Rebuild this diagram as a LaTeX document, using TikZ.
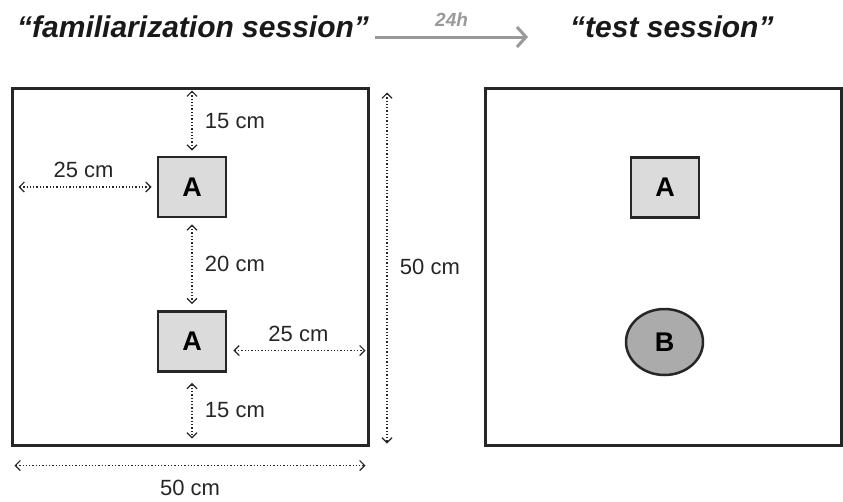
\documentclass[tikz,border=0pt]{standalone}
\usepackage{fontspec}
\setmainfont{Liberation Sans}
\usetikzlibrary{arrows.meta,shapes.geometric}

\tikzset{
	arena/.style={draw=black!85, line width=3pt, minimum width=356pt, minimum height=357pt},
	objA/.style={draw=black!85, line width=2.8pt, fill=black!14, minimum width=68pt, minimum height=60pt, font=\bfseries\fontsize{27}{27}\selectfont},
	objB/.style={ellipse, draw=black!85, line width=2.5pt, fill=black!33, minimum width=77pt, minimum height=66pt, inner sep=0pt, font=\bfseries\fontsize{27}{27}\selectfont},
	dim/.style={black!85, dotted, line width=1.3pt, {Straight Barb[length=5pt,width=10pt,line width=1.2pt]}-{Straight Barb[length=5pt,width=10pt,line width=1.2pt]}},
	dimlabel/.style={black!85, font=\fontsize{22}{22}\selectfont},
	session/.style={anchor=base west, inner sep=0pt, text=black!90, font=\bfseries\itshape\fontsize{30}{30}\selectfont},
	delay/.style={draw=black!40, line width=3pt, -{Straight Barb[length=9pt,width=20pt,line width=3pt]}},
}

\begin{document}
\begin{tikzpicture}[x=1pt, y=-1pt]
		%%%%% START %%%%%
		\useasboundingbox (0,0) rectangle (843,501);
		
		% titles
		\node[session] (famtitle) at (17,37) {“familiarization session”};
		\node[session] (testtitle) at (570,37) {“test session”};
		\draw[delay] ([xshift=6pt,yshift=0pt]famtitle.base east) -- ([xshift=-42pt,yshift=0pt]testtitle.base west) node[midway, above=6pt, text=black!40, font=\bfseries\itshape\fontsize{19}{19}\selectfont] {24h};
		
		% arenas
		\node[arena] (fam) at (190,266.5) {};
		\node[arena] (test) at (663,266.5) {};
		
		% objects
		\node[objA] (famA1) at (192,187) {A};
		\node[objA] (famA2) at (192,341.5) {A};
		\node[objA] (testA) at (665,187.5) {A};
		\node[objB] (testB) at (664.5,342) {B};
		
		% distances
		\draw[dim, shorten <=4pt, shorten >=5pt] (famA1.north |- fam.north) -- (famA1.north) node[midway, right=9pt, dimlabel] {15 cm};
		\draw[dim, shorten <=8pt, shorten >=5pt] (famA1.west -| fam.west) -- (famA1.west) node[midway, above=5pt, dimlabel] {25 cm};
		\draw[dim, shorten <=6pt, shorten >=6pt] (famA1.south) -- (famA2.north) node[midway, right=9pt, dimlabel] {20 cm};
		\draw[dim, shorten <=6pt, shorten >=4pt] ([yshift=-9pt]famA2.east) -- ([yshift=-9pt]famA2.east -| fam.east) node[midway, above=5pt, dimlabel] {25 cm};
		\draw[dim, shorten <=10pt, shorten >=8pt] (famA2.south) -- (famA2.south |- fam.south) node[midway, right=9pt, dimlabel] {15 cm};
		
		% arena size
		\coordinate (sizetop) at ([xshift=17.5pt]fam.north east);
		\coordinate (sizebot) at ([xshift=17.5pt]fam.south east);
		\draw[dim, shorten <=6pt, shorten >=3pt] (sizetop) -- (sizebot) node[midway, right=9pt, dimlabel] {50 cm};
		\coordinate (sizeleft) at ([yshift=-19pt]fam.south west);
		\coordinate (sizeright) at ([yshift=-19pt]fam.south east);
		\draw[dim, shorten <=4pt, shorten >=4pt] (sizeleft) -- (sizeright) node[midway, below=11pt, dimlabel] {50 cm};
		%%%%% END %%%%%
\end{tikzpicture}
\end{document}
